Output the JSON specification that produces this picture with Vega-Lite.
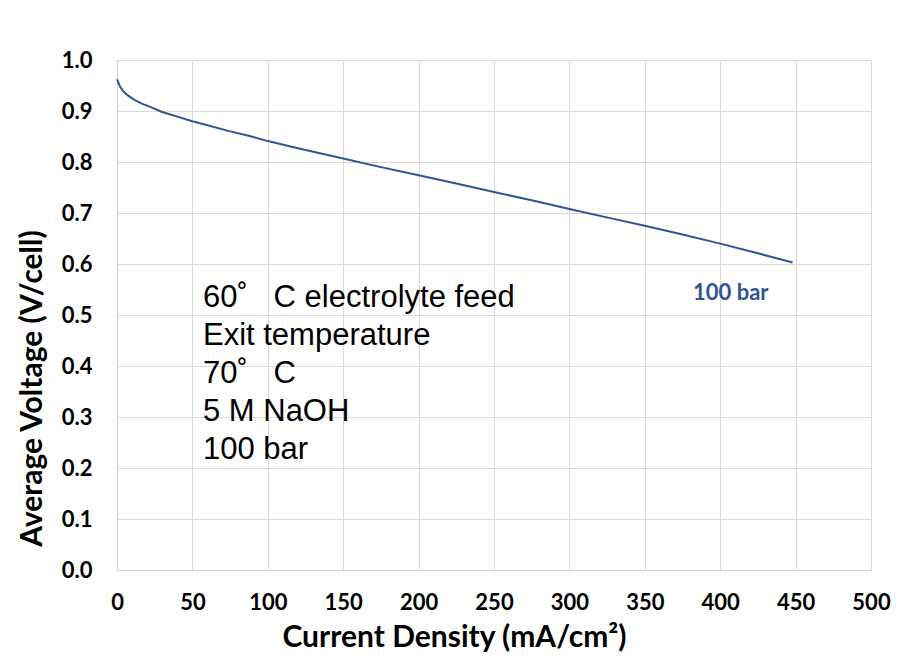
{
  "$schema": "https://vega.github.io/schema/vega-lite/v6.json",
  "width": 754,
  "height": 510,
  "autosize": {"type": "none"},
  "padding": {"left": 117, "top": 60, "right": 41, "bottom": 90},
  "background": "white",
  "config": {
    "view": {"stroke": "#d9d9d9", "strokeWidth": 1},
    "axis": {
      "labelFont": "Lato",
      "labelFontWeight": "bold",
      "labelFontSize": 22,
      "labelColor": "#000000",
      "labelFlush": false,
      "titleFont": "Lato",
      "titleFontWeight": "bold",
      "titleFontSize": 30,
      "titleColor": "#000000",
      "gridColor": "#d9d9d9",
      "gridWidth": 1,
      "domainColor": "#d0d0d0",
      "tickSize": 0
    }
  },
  "datasets": {
    "curve": [
      {"j": 0, "v": 0.962}, {"j": 1, "v": 0.955}, {"j": 2, "v": 0.948}, {"j": 4, "v": 0.939},
      {"j": 7, "v": 0.931}, {"j": 11, "v": 0.923}, {"j": 16, "v": 0.915}, {"j": 22, "v": 0.908},
      {"j": 30, "v": 0.898}, {"j": 40, "v": 0.889}, {"j": 50, "v": 0.880}, {"j": 60, "v": 0.872},
      {"j": 75, "v": 0.860}, {"j": 88, "v": 0.851}, {"j": 100, "v": 0.841}, {"j": 120, "v": 0.827},
      {"j": 150, "v": 0.807}, {"j": 175, "v": 0.790}, {"j": 200, "v": 0.774}, {"j": 225, "v": 0.758},
      {"j": 250, "v": 0.741}, {"j": 275, "v": 0.725}, {"j": 300, "v": 0.708}, {"j": 330, "v": 0.688},
      {"j": 350, "v": 0.675}, {"j": 375, "v": 0.658}, {"j": 400, "v": 0.640}, {"j": 425, "v": 0.621},
      {"j": 448, "v": 0.603}
    ],
    "notes": [
      {"j": 57, "v": 0.533, "t": "60˚\u00a0\u00a0 C electrolyte feed"},
      {"j": 57, "v": 0.459, "t": "Exit temperature"},
      {"j": 57, "v": 0.384, "t": "70˚\u00a0\u00a0 C"},
      {"j": 57, "v": 0.310, "t": "5 M NaOH"},
      {"j": 57, "v": 0.235, "t": "100 bar"}
    ],
    "label": [
      {"j": 407, "v": 0.543, "t": "100 bar"}
    ]
  },
  "layer": [
    {
      "data": {"name": "curve"},
      "mark": {"type": "line", "color": "#2f5597", "strokeWidth": 2},
      "encoding": {
        "x": {
          "field": "j", "type": "quantitative",
          "scale": {"domain": [0, 500], "nice": false, "zero": true},
          "axis": {
            "values": [0, 50, 100, 150, 200, 250, 300, 350, 400, 450, 500],
            "title": "Current Density (mA/cm²)",
            "labelPadding": 22,
            "titleX": 337, "titleY": 67, "titleAlign": "center", "titleBaseline": "middle"
          }
        },
        "y": {
          "field": "v", "type": "quantitative",
          "scale": {"domain": [0, 1], "nice": false},
          "axis": {
            "values": [0, 0.1, 0.2, 0.3, 0.4, 0.5, 0.6, 0.7, 0.8, 0.9, 1.0],
            "format": ".1f",
            "title": "Average Voltage (V/cell)",
            "labelPadding": 25,
            "titleX": -85, "titleY": 328, "titleAngle": 270, "titleAlign": "center", "titleBaseline": "middle"
          }
        }
      }
    },
    {
      "data": {"name": "notes"},
      "mark": {"type": "text", "align": "left", "baseline": "middle", "font": "Liberation Sans", "fontSize": 31, "color": "#000000"},
      "encoding": {
        "x": {"field": "j", "type": "quantitative"},
        "y": {"field": "v", "type": "quantitative"},
        "text": {"field": "t"}
      }
    },
    {
      "data": {"name": "label"},
      "mark": {"type": "text", "align": "center", "baseline": "middle", "font": "Lato", "fontWeight": "bold", "fontSize": 22, "color": "#2f5597"},
      "encoding": {
        "x": {"field": "j", "type": "quantitative"},
        "y": {"field": "v", "type": "quantitative"},
        "text": {"field": "t"}
      }
    }
  ]
}
